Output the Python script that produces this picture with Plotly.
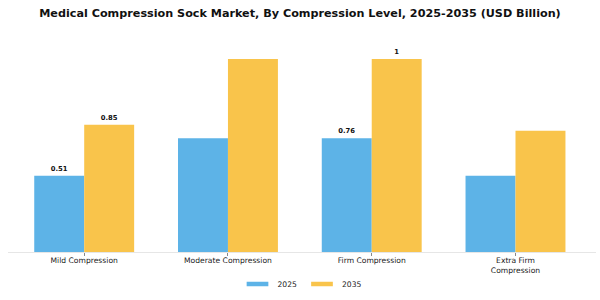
import plotly.graph_objects as go

categories = ["Mild Compression", "Moderate Compression", "Firm Compression", "Extra Firm<br>Compression"]
values_2025 = [0.51, 0.76, 0.76, 0.51]
values_2035 = [0.85, 1.29, 1.29, 0.81]
labels_2025 = ["0.51", "", "0.76", ""]
labels_2035 = ["0.85", "", "1", ""]

BLUE = "#5DB3E7"
YELLOW = "#F9C44B"
FONT = "DejaVu Sans"

fig = go.Figure()
fig.add_trace(go.Bar(x=categories, y=values_2025, name="2025", marker=dict(color=BLUE, line=dict(width=0)),
                     text=labels_2025, textposition="outside", cliponaxis=False,
                     textfont=dict(family=FONT, size=6.8, color="#111111", weight="bold"),
                     showlegend=False))
fig.add_trace(go.Bar(x=categories, y=values_2035, name="2035", marker=dict(color=YELLOW, line=dict(width=0)),
                     text=labels_2035, textposition="outside", cliponaxis=False,
                     textfont=dict(family=FONT, size=6.8, color="#111111", weight="bold"),
                     showlegend=False))
# legend entries
for nm, col in (("2025", BLUE), ("2035", YELLOW)):
    fig.add_trace(go.Scatter(x=[None], y=[None], mode="markers", name=nm,
                             marker=dict(symbol="line-ew", size=15.5, line=dict(color=col, width=4.5))))

fig.update_layout(
    width=600, height=300,
    margin=dict(l=8, r=4, t=40, b=48, autoexpand=False),
    paper_bgcolor="white", plot_bgcolor="white",
    barmode="group", bargap=0.305, bargroupgap=0,
    title=dict(text="<b>Medical Compression Sock Market, By Compression Level, 2025-2035 (USD Billion)</b>",
               x=0.5, xanchor="center", y=1 - 13.5 / 300, yanchor="middle",
               font=dict(family=FONT, size=11.2, color="#111111")),
    font=dict(family=FONT, size=7.6, color="#222222"),
    legend=dict(orientation="h", x=0.5, xanchor="center", yref="container", y=(300 - 284) / 300, yanchor="middle",
                font=dict(family=FONT, size=7.6, color="#222222"), itemwidth=30, traceorder="normal"),
)
fig.update_xaxes(range=[-0.53, 3.56], showline=True, linecolor="#E6E6E6", linewidth=1,
                 ticks="outside", ticklen=3, tickcolor="#888888", tickwidth=1, automargin=False,
                 ticklabelstandoff=-2,
                 tickfont=dict(family=FONT, size=7.6, color="#222222"), showgrid=False, zeroline=False)
fig.update_yaxes(range=[0, 1.417], visible=False, showgrid=False, zeroline=False)

fig.write_html("out.html")
